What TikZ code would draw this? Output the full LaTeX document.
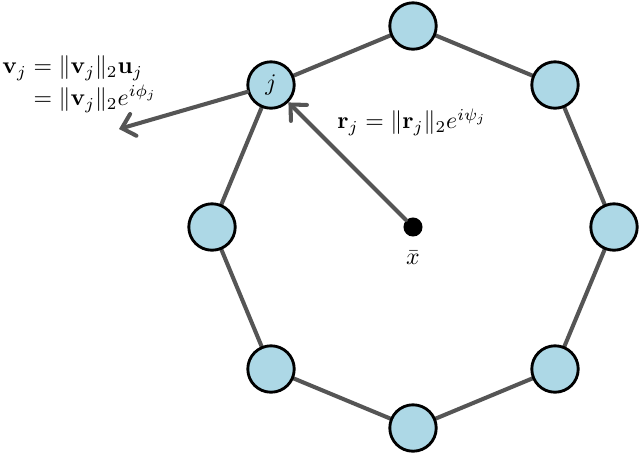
\documentclass[tikz,border=0pt]{standalone}
\usepackage{amsmath}
\usetikzlibrary{arrows.meta}
\definecolor{nodeblue}{RGB}{173,216,230}
\definecolor{edgegray}{RGB}{85,85,85}
\begin{document}
\begin{tikzpicture}[x=0.42pt,y=-0.42pt,
  vert/.style={circle,draw=black,line width=1.2pt,fill=nodeblue,minimum size=19.5pt,inner sep=0pt},
  edge/.style={draw=edgegray,line width=1.7pt},
  lab/.style={},
  arr/.style={draw=edgegray,line width=1.7pt,line cap=round,-{Straight Barb[length=5pt,width=9.5pt,line cap=round]}}]
\useasboundingbox (0,0) rectangle (640,454);
\coordinate (n0) at (413,26);
\coordinate (n1) at (555,85);
\coordinate (n2) at (614,227);
\coordinate (n3) at (555,369);
\coordinate (n4) at (413,428);
\coordinate (n5) at (271,369);
\coordinate (n6) at (212,227);
\coordinate (n7) at (271,85);
\foreach \a/\b in {n0/n1,n1/n2,n2/n3,n3/n4,n4/n5,n5/n6,n6/n7,n7/n0}
  \draw[edge] (\a) -- (\b);
\foreach \n in {0,...,6}
  \node[vert] (v\n) at (n\n) {};
\node[vert] (vj) at (n7) {$j$};
\coordinate (vend) at (119,129);
\draw[arr] (vj) -- (vend);
\node[circle,fill=black,minimum size=8pt,inner sep=0pt] (xbar) at (413,227) {};
\draw[arr] (xbar) -- (vj);
\node[lab] (xlab) at (413,258) {$\bar{x}$};
\node[lab] (rlab) at (412,122) {$\mathbf{r}_j = \|\mathbf{r}_j\|_2 e^{i\psi_j}$};
\node[lab,anchor=west,inner sep=0pt] (vlab) at (2,84) {$\begin{aligned}\mathbf{v}_j &= \|\mathbf{v}_j\|_2\mathbf{u}_j\\[-3pt] &= \|\mathbf{v}_j\|_2 e^{i\phi_j}\end{aligned}$};
\end{tikzpicture}
\end{document}
